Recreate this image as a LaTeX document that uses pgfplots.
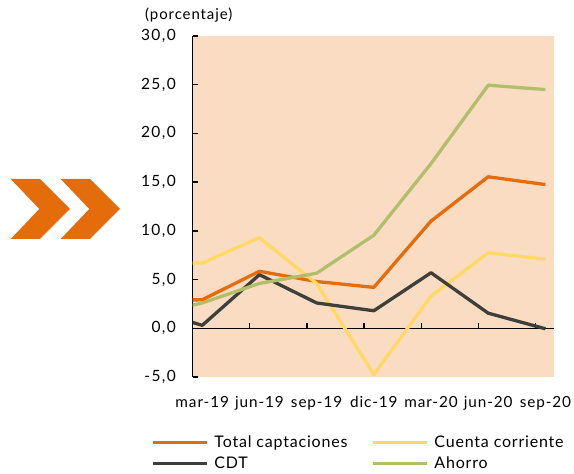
\documentclass[border=0pt]{standalone}
\usepackage{fontspec}
\setmainfont{Lato}
\newfontfamily\tickfont[LetterSpace=6]{Lato}
\newfontfamily\ytickfont[LetterSpace=9]{Lato}
\newfontfamily\legfont[LetterSpace=5]{Lato}
\usepackage{pgfplots}
\pgfplotsset{compat=1.18}
\definecolor{corange}{HTML}{E46C0A}
\definecolor{cyellow}{HTML}{FFD966}
\definecolor{cdark}{HTML}{3F3F3A}
\definecolor{cgreen}{HTML}{B2BE6A}
\definecolor{cbg}{HTML}{FADCC3}
\begin{document}
\begin{tikzpicture}
\useasboundingbox (0pt,0pt) rectangle (574pt,474pt);
\fill[corange] (10.7pt,295pt) -- (40pt,295pt) -- (70pt,265pt) -- (40pt,235pt) -- (10.7pt,235pt) -- (39.3pt,265pt) -- cycle;
\fill[corange] (60.7pt,295pt) -- (90pt,295pt) -- (120pt,265pt) -- (90pt,235pt) -- (60.7pt,235pt) -- (89.3pt,265pt) -- cycle;
\node[anchor=base west, inner sep=0pt, font=\fontsize{15}{18}\tickfont] at (145pt,454pt) {(porcentaje)};
\begin{axis}[
  at={(192.5pt,97pt)}, anchor=south west, scale only axis,
  width=361.5pt, height=341pt,
  xmin=-0.17, xmax=6.15, ymin=-5, ymax=30,
  axis background/.style={fill=cbg},
  axis line style={draw=none},
  tick style={draw=none},
  clip mode=individual,
  xtick={0,1,2,3,4,5,6},
  xticklabels={mar-19,jun-19,sep-19,dic-19,mar-20,jun-20,sep-20},
  ytick={-5,0,5,10,15,20,25,30},
  yticklabel style={font=\fontsize{15.5}{18}\ytickfont, anchor=east, inner sep=0pt, xshift=-16.5pt,
    /pgf/number format/fixed, /pgf/number format/fixed zerofill,
    /pgf/number format/precision=1, /pgf/number format/use comma,
    /pgf/number format/assume math mode=true},
  xticklabel style={font=\fontsize{15.3}{18}\tickfont, anchor=base, inner sep=0pt, yshift=-31pt},
  legend columns=2,
  legend cell align=left,
  legend image code/.code={\draw[#1, line width=3pt] (0pt,0pt) -- (54pt,0pt);},
  legend style={draw=none, fill=none, inner sep=0pt, font=\fontsize{16}{19}\legfont,
    at={(axis description cs:-0.114,-0.167)}, anchor=north west,
    /tikz/every odd column/.append style={column sep=4pt},
    /tikz/every even column/.append style={column sep=22pt},
    row sep=3pt},
  every axis plot/.append style={line width=3.3pt, line join=round, mark=none},
]
\draw[black, line width=1.4pt] (axis cs:-0.17,0) -- (axis cs:6.15,0);
\draw[black, line width=1.4pt] (axis cs:-0.17,-5) -- (axis cs:-0.17,30);
\pgfplotsinvokeforeach{-5,5,10,15,20,25,30}{\draw[black, line width=1.4pt] (axis cs:-0.17,#1) -- ++(5pt,0pt);}
\pgfplotsinvokeforeach{0.83,1.83,2.83,3.83,4.83,5.83}{\draw[black, line width=1.4pt] (axis cs:#1,0) -- ++(0pt,5.5pt);}
\addplot[corange] coordinates {(-1,2.9) (0,2.92) (1,5.85) (2,4.8) (3,4.2) (4,11.0) (5,15.55) (6,14.75)};
\addlegendentry{Total captaciones}
\addplot[cyellow] coordinates {(-1,6.7) (0,6.7) (1,9.3) (2,4.6) (3,-4.75) (4,3.3) (5,7.75) (6,7.1)};
\addlegendentry{Cuenta corriente}
\addplot[cdark] coordinates {(-1,2.1) (0,0.3) (1,5.5) (2,2.6) (3,1.8) (4,5.7) (5,1.55) (6,-0.05)};
\addlegendentry{CDT}
\addplot[cgreen] coordinates {(-1,1.3) (0,2.6) (1,4.6) (2,5.65) (3,9.55) (4,16.9) (5,24.95) (6,24.5)};
\addlegendentry{Ahorro}
\end{axis}
\end{tikzpicture}
\end{document}
